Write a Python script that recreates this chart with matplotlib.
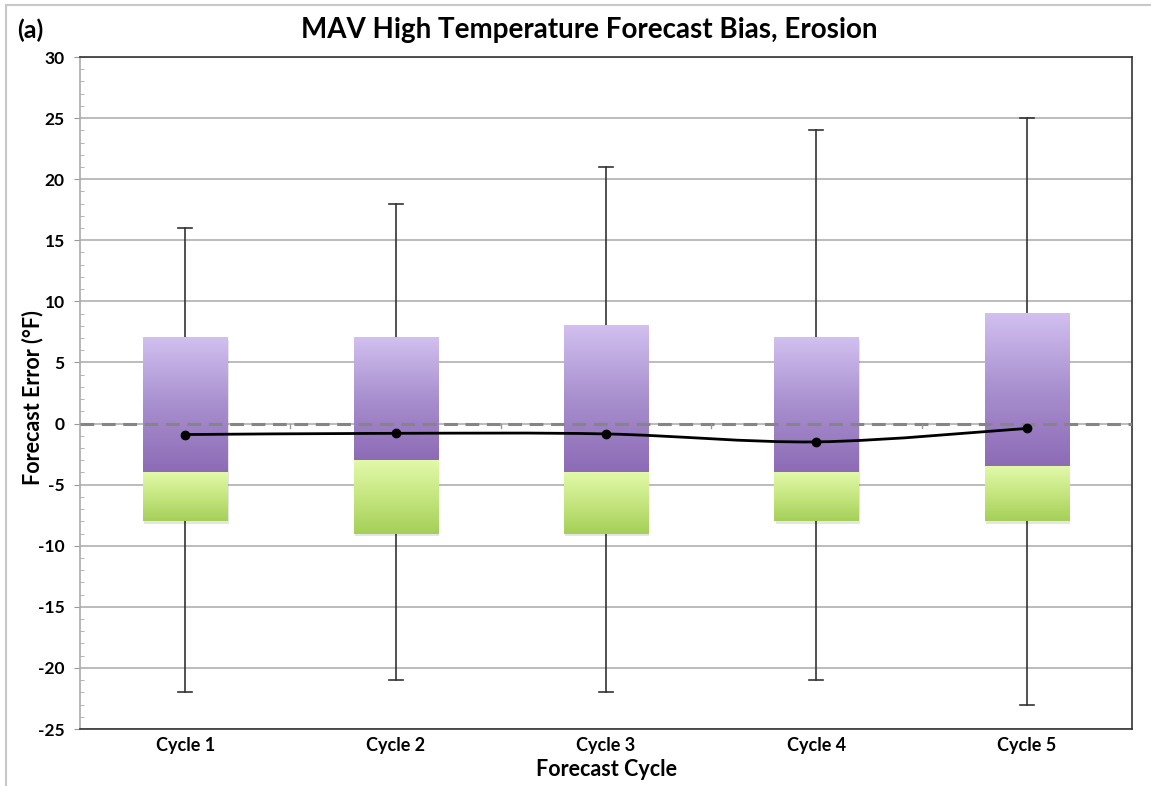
import numpy as np
import matplotlib
matplotlib.use("Agg")
import matplotlib.pyplot as plt
from matplotlib.path import Path
from matplotlib.patches import PathPatch, Rectangle
from matplotlib.colors import LinearSegmentedColormap

# ---- data ----
categories = ["Cycle 1", "Cycle 2", "Cycle 3", "Cycle 4", "Cycle 5"]
whisker_high = [16, 18, 21, 24, 25]
whisker_low = [-22, -21, -22, -21, -23]
box_top = [7, 7, 8, 7, 9]
box_mid = [-4, -3, -4, -4, -3.5]
box_bottom = [-8, -9, -9, -8, -8]
mean_bias = [-0.9, -0.8, -0.85, -1.5, -0.4]
y_ticks = [-25, -20, -15, -10, -5, 0, 5, 10, 15, 20, 25, 30]

plt.rcParams['font.family'] = ['Lato', 'DejaVu Sans']
plt.rcParams['axes.unicode_minus'] = False

W, H = 1151, 786
fig = plt.figure(figsize=(W / 100, H / 100), dpi=100)
ax_l, ax_r, ax_t, ax_b = 80, 1132, 57, 729
ax = fig.add_axes([ax_l / W, 1 - ax_b / H, (ax_r - ax_l) / W, (ax_b - ax_t) / H])

# figure border
fig.patches.append(Rectangle((6 / W, -0.01), 1.02, 1 - 5 / H + 0.01,
                             transform=fig.transFigure, fill=False,
                             edgecolor="#c8c8c8", linewidth=1.5, zorder=0))

x = np.arange(len(categories))
bw = 0.4

purple = LinearSegmentedColormap.from_list("p", ["#8d6bb6", "#a88fce", "#d2c0f0"])
green = LinearSegmentedColormap.from_list("g", ["#a5cf58", "#c5e67f", "#e2f9a9"])
grad = np.linspace(0, 1, 256).reshape(-1, 1)

for xi, hi, lo, t, m, b in zip(x, whisker_high, whisker_low, box_top, box_mid, box_bottom):
    # whiskers
    ax.plot([xi, xi], [t, hi], color="#333333", lw=1.2, zorder=3)
    ax.plot([xi, xi], [lo, b], color="#333333", lw=1.2, zorder=3)
    ax.plot([xi - 0.033, xi + 0.033], [hi, hi], color="#333333", lw=1.2, zorder=3)
    ax.plot([xi - 0.033, xi + 0.033], [lo, lo], color="#333333", lw=1.2, zorder=3)
    # shadow
    ax.add_patch(Rectangle((xi - bw / 2 + 0.006, b - 0.2), bw, t - b,
                           facecolor="#000000", alpha=0.10, edgecolor="none", zorder=3.5))
    # gradient boxes
    ax.imshow(grad, cmap=purple, origin="lower", aspect="auto",
              extent=(xi - bw / 2, xi + bw / 2, m, t), zorder=4)
    ax.imshow(grad, cmap=green, origin="lower", aspect="auto",
              extent=(xi - bw / 2, xi + bw / 2, b, m), zorder=4)

# zero dashed line
ax.axhline(0, color="#858585", lw=2.2, ls=(0, (4.5, 2.5)), zorder=5)
# small category boundary ticks on zero line
for xb in np.arange(0.5, len(categories) - 0.5, 1.0):
    ax.plot([xb, xb], [0, -0.4], color="#999999", lw=1, zorder=5)

# smoothed mean line (Catmull-Rom -> Bezier)
pts = np.column_stack([x, mean_bias]).astype(float)
verts = [tuple(pts[0])]
codes = [Path.MOVETO]
n = len(pts)
for i in range(n - 1):
    p0 = pts[i - 1] if i > 0 else pts[i]
    p1 = pts[i]
    p2 = pts[i + 1]
    p3 = pts[i + 2] if i + 2 < n else pts[i + 1]
    c1 = p1 + (p2 - p0) / 6
    c2 = p2 - (p3 - p1) / 6
    verts += [tuple(c1), tuple(c2), tuple(p2)]
    codes += [Path.CURVE4] * 3
ax.add_patch(PathPatch(Path(verts, codes), facecolor="none", edgecolor="black",
                       lw=2, zorder=6))
ax.plot(x, mean_bias, "o", color="black", ms=6, zorder=7)

ax.set_xlim(-0.5, len(categories) - 0.5)
ax.set_ylim(-25, 30)
ax.set_yticks(y_ticks)
ax.set_yticks(np.arange(-25, 31, 1), minor=True)
ax.yaxis.grid(True, which="major", color="#b0b0b0", lw=1.2, zorder=1)
ax.set_axisbelow(True)
ax.set_xticks(x)
ax.set_xticklabels(categories, fontsize=13, fontweight="bold")
ax.tick_params(axis="x", length=0, pad=6)
ax.tick_params(axis="y", which="major", length=4, color="#999999", labelsize=12.5, pad=7)
ax.tick_params(axis="y", which="minor", length=3, direction="in", color="#aaaaaa")
for lab in ax.get_yticklabels():
    lab.set_fontweight("bold")

ax.spines["left"].set_color("#aaaaaa")
ax.spines["left"].set_linewidth(1.2)
for s in ["top", "right", "bottom"]:
    ax.spines[s].set_color("#333333")
    ax.spines[s].set_linewidth(1.2)

ax.set_ylabel("Forecast Error (°F)", fontsize=15.5, fontweight="bold", va="center", ha="center")
ax.yaxis.set_label_coords((33 - ax_l) / (ax_r - ax_l), (ax_b - 398) / (ax_b - ax_t))
ax.set_xlabel("Forecast Cycle", fontsize=15.5, fontweight="bold", va="center", ha="center")
ax.xaxis.set_label_coords((607 - ax_l) / (ax_r - ax_l), (ax_b - 769) / (ax_b - ax_t))

fig.text(589 / W, 1 - 30 / H, "MAV High Temperature Forecast Bias, Erosion",
         ha="center", va="center", fontsize=20, fontweight="bold")
fig.text(17 / W, 1 - 30 / H, "(a)", ha="left", va="center", fontsize=18, fontweight="bold")

fig.savefig("out.png", dpi=100)
